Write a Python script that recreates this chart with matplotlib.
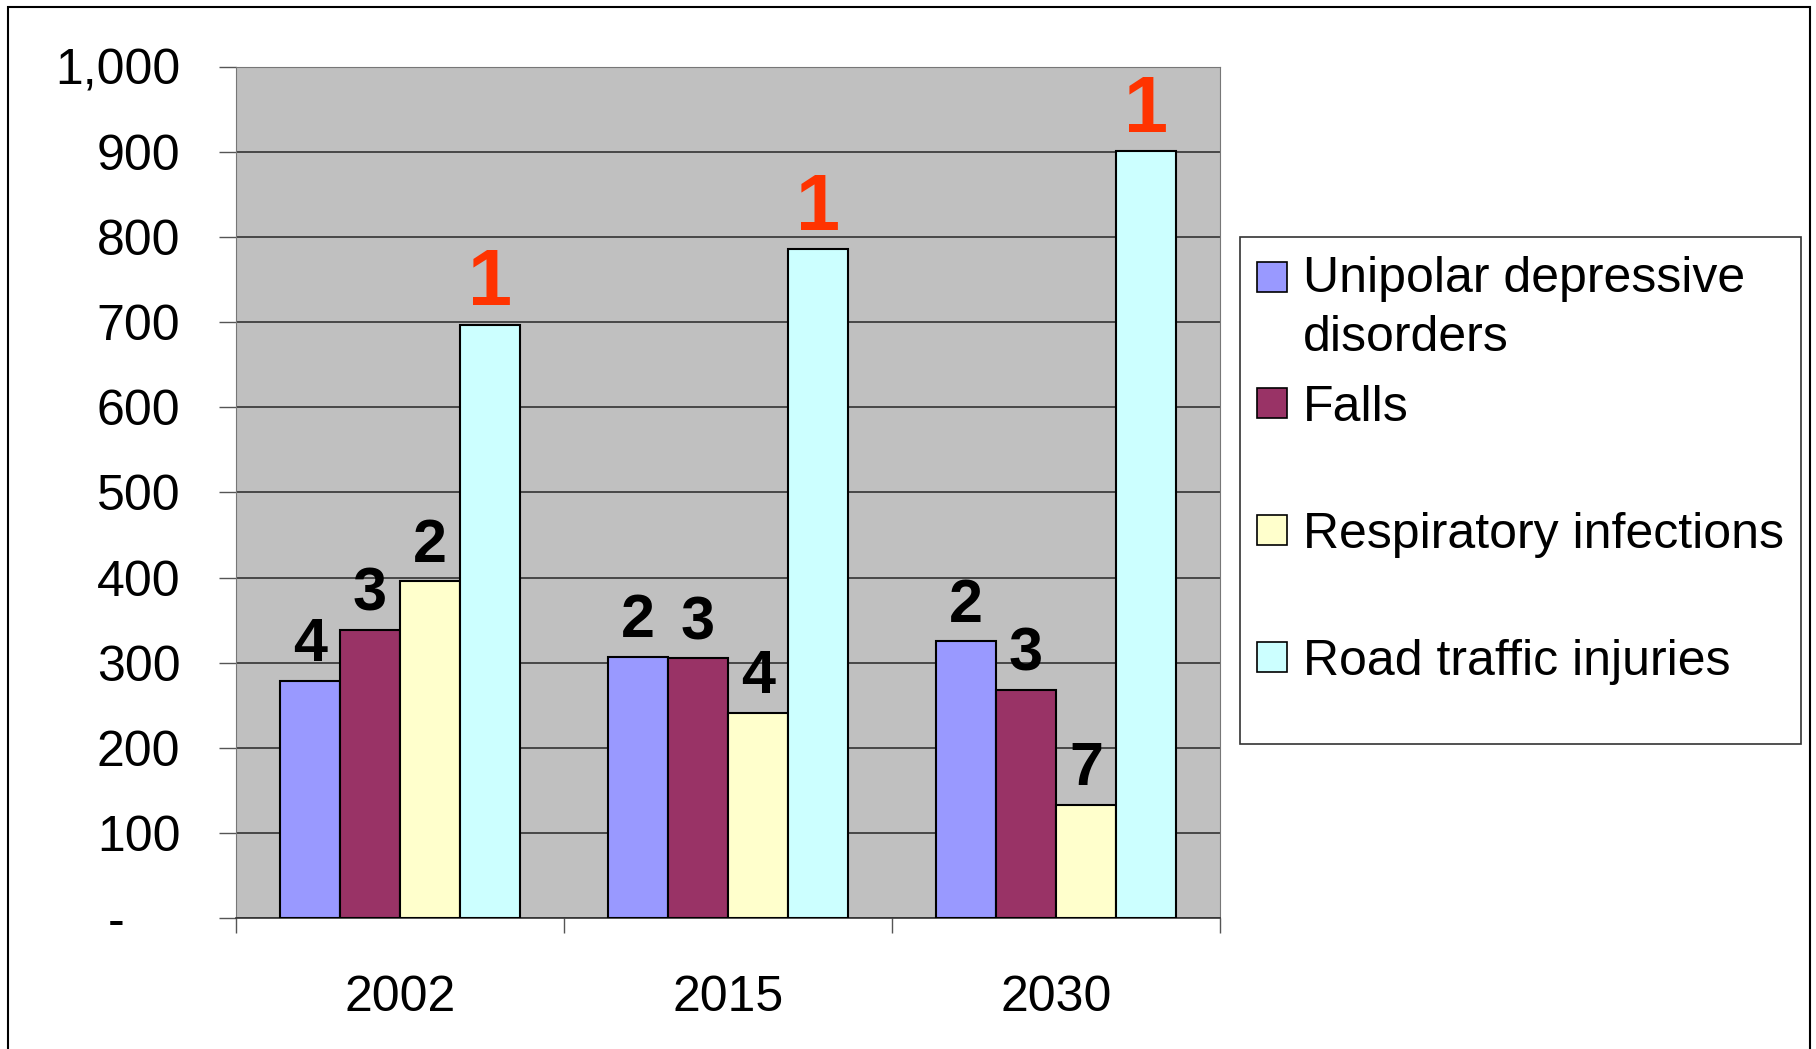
import numpy as np
import matplotlib.pyplot as plt
from matplotlib.patches import Rectangle
from matplotlib.ticker import FuncFormatter

plt.rcParams['font.family'] = ['Liberation Sans', 'DejaVu Sans']

# Data
years = ['2002', '2015', '2030']
series = ['Unipolar depressive\ndisorders', 'Falls', 'Respiratory infections', 'Road traffic injuries']
unipolar = [279, 307, 325]
falls = [339, 305, 268]
respiratory = [396, 241, 133]
road = [697, 786, 901]
ranks = [[4, 2, 2], [3, 3, 3], [2, 4, 7], [1, 1, 1]]

values = [unipolar, falls, respiratory, road]
colors = ['#9999FF', '#993366', '#FFFFCC', '#CCFFFF']

W, H = 1816, 1049
fig = plt.figure(figsize=(W / 100, H / 100), dpi=100)
ax = fig.add_axes([236 / W, 131 / H, 984 / W, 851 / H])
ax.set_facecolor('#C0C0C0')

x = np.arange(len(years))
bw = 0.183
for i, (vals, col) in enumerate(zip(values, colors)):
    pos = x + (i - 1.5) * bw
    ax.bar(pos, vals, bw, color=col, edgecolor='black', linewidth=1.5, zorder=3)
    for xp, v, r in zip(pos, vals, ranks[i]):
        big = r == 1
        ax.annotate(str(r), (xp, v), xytext=(0, 14), textcoords='offset points',
                    ha='center', va='baseline', fontweight='bold',
                    fontsize=57 if big else 44,
                    color='#FF3300' if big else 'black', zorder=4)

ax.set_xlim(-0.5, 2.5)
ax.set_ylim(0, 1000)
ax.set_yticks(np.arange(0, 1001, 100))
ax.yaxis.set_major_formatter(FuncFormatter(lambda v, p: '-    ' if v == 0 else f'{v:,.0f}'))
ax.grid(axis='y', color='#333333', linewidth=1.2, zorder=1)
ax.tick_params(axis='y', length=12, width=1, color='#555555', labelsize=36, pad=28)

ax.set_xticks([-0.5, 0.5, 1.5, 2.5])
ax.set_xticklabels([])
ax.set_xticks(x, minor=True)
ax.set_xticklabels(years, minor=True)
ax.tick_params(axis='x', which='major', length=11, width=1, color='#555555')
ax.tick_params(axis='x', which='minor', length=0, labelsize=36, pad=41)

for s in ['left', 'right', 'top']:
    ax.spines[s].set_color('#777777')
ax.spines['bottom'].set_color('#333333')
ax.spines['bottom'].set_linewidth(1.2)

# outer border of the chart
fig.patches.append(Rectangle((8 / W, -0.05), 1802 / W, 1.05 - 7 / H, transform=fig.transFigure,
                             fill=False, edgecolor='black', linewidth=1.5))

# legend box drawn by hand to match the spacing
fig.patches.append(Rectangle((1240 / W, (H - 744) / H), 561 / W, 507 / H, transform=fig.transFigure,
                             facecolor='white', edgecolor='#333333', linewidth=1.2))
entry_y = [277, 403, 530, 657]
for lab, col, yy in zip(series, colors, entry_y):
    fig.patches.append(Rectangle((1257 / W, (H - yy - 15) / H), 30 / W, 30 / H,
                                 transform=fig.transFigure, facecolor=col,
                                 edgecolor='black', linewidth=1.2))
    if '\n' in lab:
        fig.text(1303 / W, (H - yy + 21) / H, lab, fontsize=36, va='top', ha='left',
                 linespacing=1.36)
    else:
        fig.text(1303 / W, (H - yy) / H, lab, fontsize=36, va='center_baseline', ha='left')

fig.savefig('out.png', dpi=100)
